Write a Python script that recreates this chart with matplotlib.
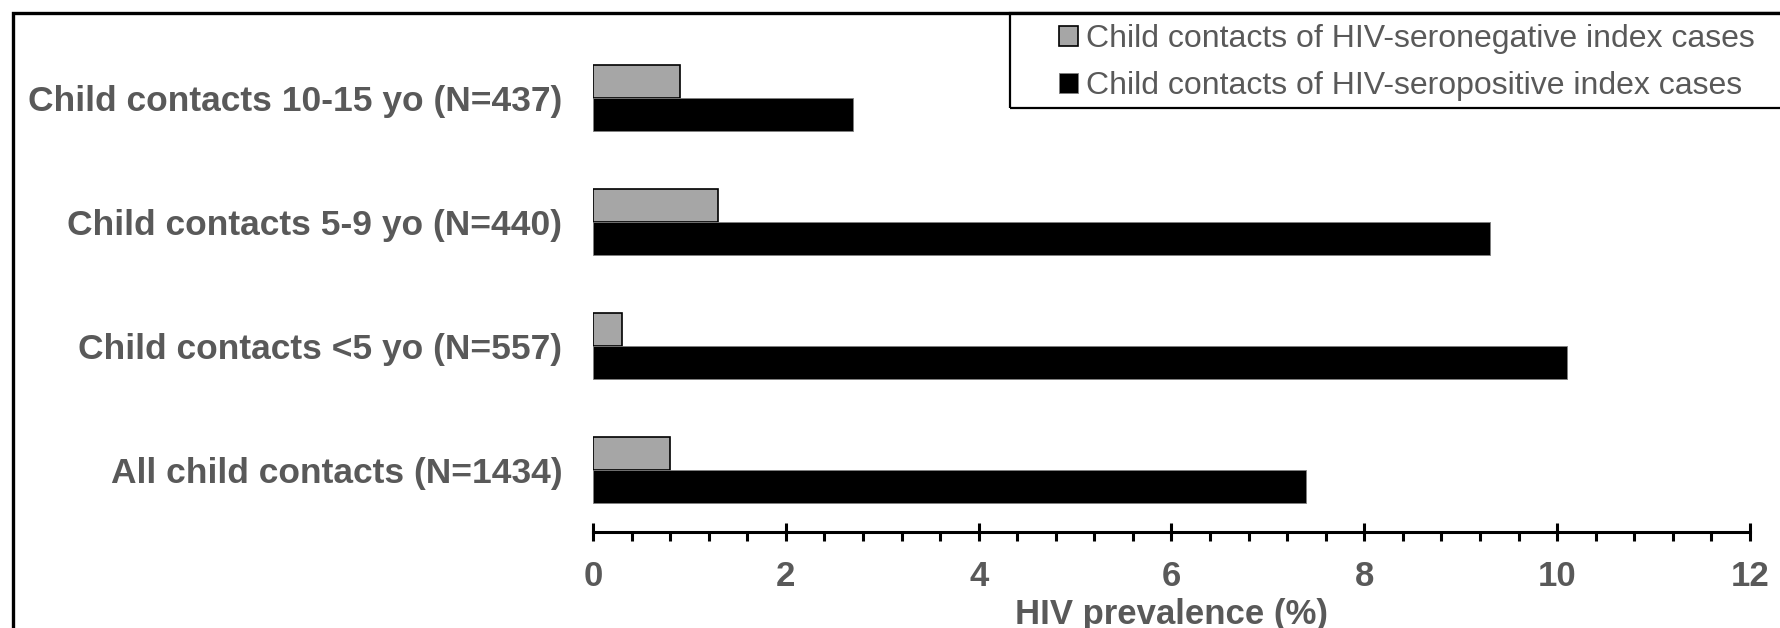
import matplotlib.pyplot as plt
from matplotlib.patches import Rectangle
from matplotlib.ticker import MultipleLocator

# Data
categories = ["All child contacts (N=1434)",
              "Child contacts <5 yo (N=557)",
              "Child contacts 5-9 yo (N=440)",
              "Child contacts 10-15 yo (N=437)"]
seronegative = [0.8, 0.3, 1.3, 0.9]
seropositive = [7.4, 10.1, 9.3, 2.7]
series_labels = ["Child contacts of HIV-seronegative index cases",
                 "Child contacts of HIV-seropositive index cases"]

text_gray = "#595959"
plt.rcParams['font.family'] = ['Liberation Sans', 'DejaVu Sans']

W, H = 1781, 628
fig = plt.figure(figsize=(W / 100, H / 100), dpi=100)
ax = fig.add_axes([593 / W, 1 - 532 / H, (1750 - 593) / W, (532 - 36) / H])

y = list(range(len(categories)))
h = 0.265
b_neg = ax.barh([v + h / 2 for v in y], seronegative, height=h,
                color="#a6a6a6", edgecolor="black", linewidth=1.2,
                label=series_labels[0])
b_pos = ax.barh([v - h / 2 for v in y], seropositive, height=h,
                color="black", edgecolor="#7f7f7f", linewidth=0.6,
                label=series_labels[1])

ax.set_xlim(0, 12)
ax.set_ylim(-0.5, 3.5)
ax.set_yticks(y)
ax.set_yticklabels(categories, fontsize=25.5, fontweight="bold", color=text_gray)
ax.tick_params(axis="y", length=0, pad=22)

ax.xaxis.set_major_locator(MultipleLocator(2))
ax.xaxis.set_minor_locator(MultipleLocator(0.4))
ax.tick_params(axis="x", which="major", direction="inout", length=13,
               width=2.2, pad=14, labelsize=25, labelcolor=text_gray)
ax.tick_params(axis="x", which="minor", direction="out", length=6.5, width=2.2)
for lab in ax.get_xticklabels():
    lab.set_fontweight("bold")
ax.set_xlabel("HIV prevalence (%)", fontsize=25, fontweight="bold",
              color=text_gray, labelpad=3)

for s in ["left", "right", "top"]:
    ax.spines[s].set_visible(False)
ax.spines["bottom"].set_linewidth(2.2)

# outer frame (cropped on right and bottom)
fig.patches.append(Rectangle((13.5 / W, -0.2), 1.5, 1.2 - 12.5 / H,
                             transform=fig.transFigure, fill=False,
                             edgecolor="black", linewidth=2.4, clip_on=False))
# legend box
fig.patches.append(Rectangle((1010 / W, 1 - 108 / H), 1.0, 95 / H,
                             transform=fig.transFigure, fill=False,
                             edgecolor="black", linewidth=1.6, clip_on=False))

leg = fig.legend(handles=[b_neg, b_pos], labels=series_labels,
                 loc="upper left", bbox_to_anchor=(1059 / W, 1 - 24 / H),
                 frameon=False, fontsize=23, borderpad=0, borderaxespad=0,
                 handlelength=0.6, handleheight=0.6, handletextpad=0.25,
                 labelspacing=0.54)
for t in leg.get_texts():
    t.set_color(text_gray)

fig.savefig("out.png", dpi=100)
